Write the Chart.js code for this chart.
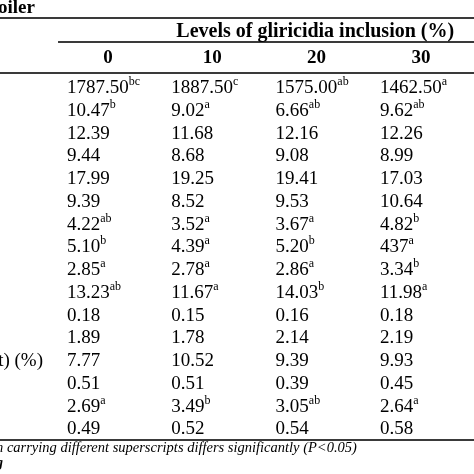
<!DOCTYPE html>
<html>
<head>
<meta charset="utf-8">
<script src="https://cdn.jsdelivr.net/npm/chart.js@4/dist/chart.umd.min.js"></script>
<style>
  html, body { margin: 0; padding: 0; background: #fff; }
  canvas { display: block; }
</style>
</head>
<body>
<canvas id="tableChart" width="474" height="474"></canvas>
<script>
// levels of gliricidia inclusion (%)
const levels = [0, 10, 20, 30];

// one list of cell texts per level, rows top to bottom
const vals0  = ['1787.50', '10.47', '12.39', '9.44', '17.99', '9.39', '4.22', '5.10', '2.85', '13.23', '0.18', '1.89', '7.77', '0.51', '2.69', '0.49'];
const vals10 = ['1887.50', '9.02', '11.68', '8.68', '19.25', '8.52', '3.52', '4.39', '2.78', '11.67', '0.15', '1.78', '10.52', '0.51', '3.49', '0.52'];
const vals20 = ['1575.00', '6.66', '12.16', '9.08', '19.41', '9.53', '3.67', '5.20', '2.86', '14.03', '0.16', '2.14', '9.39', '0.39', '3.05', '0.54'];
const vals30 = ['1462.50', '9.62', '12.26', '8.99', '17.03', '10.64', '4.82', '437', '3.34', '11.98', '0.18', '2.19', '9.93', '0.45', '2.64', '0.58'];

// superscripts
const sup0  = ['bc', 'b', '', '', '', '', 'ab', 'b', 'a', 'ab', '', '', '', '', 'a', ''];
const sup10 = ['c', 'a', '', '', '', '', 'a', 'a', 'a', 'a', '', '', '', '', 'b', ''];
const sup20 = ['ab', 'ab', '', '', '', '', 'a', 'b', 'a', 'b', '', '', '', '', 'ab', ''];
const sup30 = ['a', 'ab', '', '', '', '', 'b', 'a', 'b', 'a', '', '', '', '', 'a', ''];

// row labels (only the tail of one survives the crop)
const rowLabels = ['', '', '', '', '', '', '', '', '', '', '', '', 't) (%)', '', '', ''];

const title = 'oiler';
const groupHeader = 'Levels of gliricidia inclusion (%)';
const footnote = 'n carrying different superscripts differs significantly (P<0.05)';

const allVals = [vals0, vals10, vals20, vals30];
const allSups = [sup0, sup10, sup20, sup30];

const serif = '"Liberation Serif", "DejaVu Serif", serif';

const tablePlugin = {
    id: 'tablePlugin',
    afterDraw(chart) {
        const ctx = chart.ctx;
        const xs = chart.scales.x;
        const ys = chart.scales.y;
        const W = chart.width;
        ctx.save();
        ctx.fillStyle = '#000';
        ctx.textBaseline = 'alphabetic';

        // title
        ctx.font = 'bold 19px ' + serif;
        ctx.textAlign = 'left';
        ctx.fillText(title, -2, ys.getPixelForValue(-3.5));

        // rules
        ctx.strokeStyle = '#3a3a3a';
        function rule(v, x0) {
            const y = Math.round(ys.getPixelForValue(v));
            ctx.lineWidth = 2;
            ctx.beginPath();
            ctx.moveTo(x0, y);
            ctx.lineTo(W, y);
            ctx.stroke();
        }
        rule(-3.29, 0);
        rule(-2.24, xs.getPixelForValue(-0.86));
        rule(-0.88, 0);
        rule(15.25, 0);

        // group header
        ctx.font = 'bold 20px ' + serif;
        ctx.textAlign = 'center';
        ctx.fillText(groupHeader, xs.getPixelForValue(23.8), ys.getPixelForValue(-2.46));

        // column headers
        ctx.font = 'bold 19px ' + serif;
        levels.forEach(lv => {
            ctx.fillText(String(lv), xs.getPixelForValue(lv) + 41, ys.getPixelForValue(-1.34));
        });

        // cells
        chart.data.datasets.forEach((ds, i) => {
            const meta = chart.getDatasetMeta(i);
            meta.data.forEach((el, j) => {
                const pt = ds.data[j];
                ctx.textAlign = 'left';
                ctx.font = '19px ' + serif;
                ctx.fillText(pt.text, el.x, el.y);
                if (pt.sup) {
                    const w = ctx.measureText(pt.text).width;
                    ctx.font = '12px ' + serif;
                    ctx.fillText(pt.sup, el.x + w, el.y - 8);
                }
            });
        });

        // row labels
        ctx.font = '19px ' + serif;
        ctx.textAlign = 'right';
        rowLabels.forEach((lab, r) => {
            if (lab) ctx.fillText(lab, 43, ys.getPixelForValue(r));
        });

        // footnote
        ctx.textAlign = 'left';
        ctx.font = 'italic 14.5px ' + serif;
        ctx.fillText(footnote, -4, ys.getPixelForValue(15.8));
        ctx.font = 'bold italic 14px ' + serif;
        ctx.fillText('g', -4, ys.getPixelForValue(16.45));

        ctx.restore();
    }
};

new Chart(document.getElementById('tableChart'), {
    type: 'scatter',
    data: {
        datasets: levels.map((lv, c) => ({
            label: String(lv),
            data: allVals[c].map((t, r) => ({ x: lv, y: r, text: t, sup: allSups[c][r] })),
            pointRadius: 0,
            pointHoverRadius: 0
        }))
    },
    options: {
        responsive: false,
        animation: false,
        devicePixelRatio: 1,
        layout: { padding: 0 },
        events: [],
        plugins: { legend: { display: false }, tooltip: { enabled: false } },
        scales: {
            x: { type: 'linear', display: false, min: -6.424, max: 39.02 },
            y: { type: 'linear', display: false, reverse: true, min: -4.088, max: 16.747 }
        }
    },
    plugins: [tablePlugin]
});
</script>
</body>
</html>
